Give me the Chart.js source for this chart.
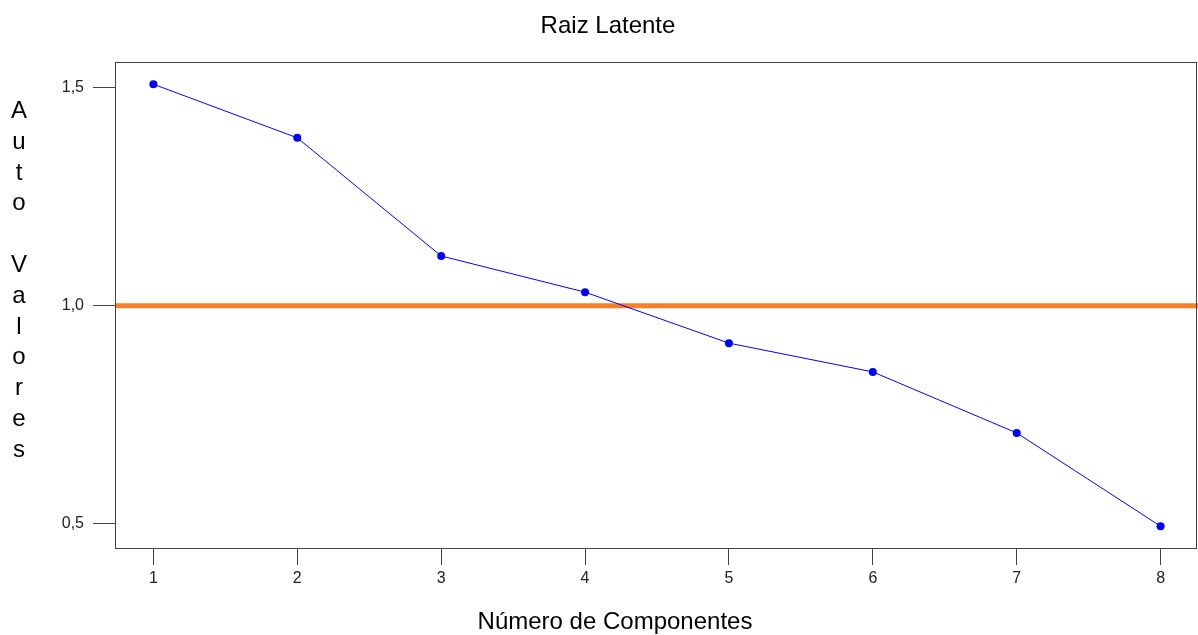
<!DOCTYPE html>
<html>
<head>
<meta charset="utf-8">
<script src="https://cdn.jsdelivr.net/npm/chart.js@4"></script>
<style>
  html, body { margin: 0; padding: 0; background: #fff; overflow: hidden; }
  #wrap { width: 1198px; height: 635px; }
  canvas { display: block; }
</style>
</head>
<body>
<div id="wrap"><canvas id="scree"></canvas></div>
<script>
"use strict";

// data
var components = [1, 2, 3, 4, 5, 6, 7, 8];
var eigenValues = [1.508, 1.385, 1.114, 1.031, 0.914, 0.848, 0.708, 0.494];
var yTicks = [0.5, 1.0, 1.5];
var yTickLabels = ["0,5", "1,0", "1,5"];
var cutoff = 1.0;
var chartTitle = "Raiz Latente";
var xTitle = "Número de Componentes";
var yTitleLetters = ["A", "u", "t", "o", "", "V", "a", "l", "o", "r", "e", "s"];

var points = components.map(function (c, i) {
  return { x: c, y: eigenValues[i] };
});

var FONT = "'Liberation Sans', Arial, sans-serif";

// box around plot, orange cutoff line and the titles
var framePlugin = {
  id: "frame",
  beforeDatasetsDraw: function (chart) {
    var ctx = chart.ctx;
    var a = chart.chartArea;
    var yPix = chart.scales.y.getPixelForValue(cutoff);
    ctx.save();
    ctx.strokeStyle = "#F5802A";
    ctx.lineWidth = 5;
    ctx.beginPath();
    ctx.moveTo(a.left, yPix);
    ctx.lineTo(a.right, yPix);
    ctx.stroke();
    ctx.restore();
  },
  afterDraw: function (chart) {
    var ctx = chart.ctx;
    var a = chart.chartArea;
    ctx.save();
    ctx.strokeStyle = "#444";
    ctx.lineWidth = 1;
    ctx.strokeRect(Math.round(a.left) - 0.5, Math.round(a.top) + 0.5,
      Math.round(a.right - a.left) - 1, Math.round(a.bottom - a.top));

    ctx.fillStyle = "#000";
    ctx.font = "24px " + FONT;
    ctx.textAlign = "center";
    ctx.textBaseline = "alphabetic";
    ctx.fillText(chartTitle, 608, 33);
    ctx.fillText(xTitle, 615, 629);
    // stacked y title
    yTitleLetters.forEach(function (ch, i) {
      ctx.fillText(ch, 19, 118 + i * 30.8);
    });
    ctx.restore();
  }
};

const scree = document.getElementById("scree");

new Chart(scree, {
  type: "line",
  data: {
    datasets: [{
      data: points,
      borderColor: "#0000FF",
      borderWidth: 1,
      backgroundColor: "#0000FF",
      pointRadius: 4,
      pointBorderWidth: 0,
      tension: 0
    }]
  },
  options: {
    responsive: true,
    maintainAspectRatio: false,
    animation: false,
    layout: {
      autoPadding: false,
      padding: { left: 0, right: 0, top: 62, bottom: 0 }
    },
    plugins: {
      legend: { display: false },
      tooltip: { enabled: false },
      title: { display: false }
    },
    scales: {
      x: {
        type: "linear",
        min: 0.74,
        max: 8.26,
        afterBuildTicks: function (scale) {
          scale.ticks = components.map(function (v) { return { value: v }; });
        },
        afterFit: function (scale) {
          scale.height = 87;
        },
        grid: {
          drawOnChartArea: false,
          drawTicks: true,
          tickLength: 17,
          color: "#444"
        },
        border: { display: false },
        ticks: {
          color: "#222",
          padding: 4,
          maxRotation: 0,
          font: { size: 16, family: FONT }
        }
      },
      y: {
        type: "linear",
        min: 0.444,
        max: 1.559,
        afterBuildTicks: function (scale) {
          scale.ticks = yTicks.map(function (v) { return { value: v }; });
        },
        afterFit: function (scale) {
          scale.width = 116;
        },
        grid: {
          drawOnChartArea: false,
          drawTicks: true,
          tickLength: 23,
          color: "#444"
        },
        border: { display: false },
        ticks: {
          color: "#222",
          padding: 9,
          font: { size: 16, family: FONT },
          callback: function (value) {
            var i = yTicks.indexOf(value);
            return i >= 0 ? yTickLabels[i] : "";
          }
        }
      }
    }
  },
  plugins: [framePlugin]
});
</script>
</body>
</html>
